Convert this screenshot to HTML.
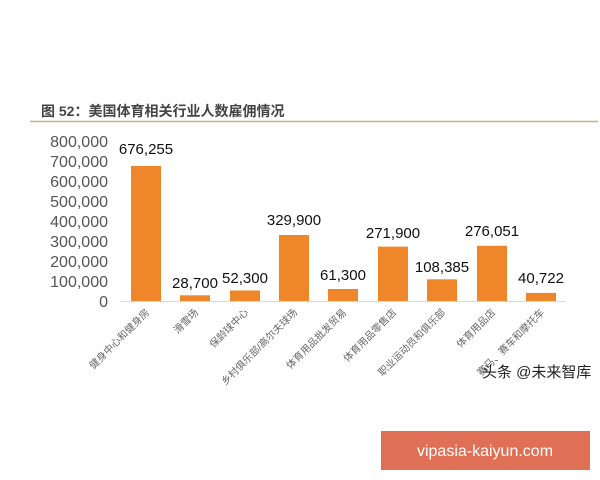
<!DOCTYPE html><html><head><meta charset="utf-8"><style>
body{margin:0;width:600px;height:480px;background:#fff;overflow:hidden;position:relative;font-family:"Liberation Sans","Noto Sans CJK SC",sans-serif}
</style></head><body>
<svg width="600" height="480" xmlns="http://www.w3.org/2000/svg" style="position:absolute;left:0;top:0">
<text x="41" y="116" font-size="14" font-weight="bold" fill="#444" font-family="Liberation Sans, Noto Sans CJK SC, sans-serif">图 52：美国体育相关行业人数雇佣情况</text>
<line x1="30" y1="121.5" x2="598" y2="121.5" stroke="#c8b283" stroke-width="1.5"/>
<g font-size="16" fill="#555" text-anchor="end" font-family="Liberation Sans, sans-serif">
<text x="108" y="147">800,000</text><text x="108" y="167">700,000</text><text x="108" y="187">600,000</text><text x="108" y="207">500,000</text><text x="108" y="227">400,000</text><text x="108" y="247">300,000</text><text x="108" y="267">200,000</text><text x="108" y="287">100,000</text><text x="108" y="307">0</text>
</g>
<line x1="121" y1="301.5" x2="566" y2="301.5" stroke="#d9d9d9" stroke-width="1"/>
<g fill="#f0862a">
<rect x="131" y="166" width="30" height="135"/>
<rect x="180" y="295.3" width="30" height="5.7"/>
<rect x="230" y="290.5" width="30" height="10.5"/>
<rect x="279" y="235" width="30" height="66"/>
<rect x="328" y="289" width="30" height="12"/>
<rect x="378" y="246.6" width="30" height="54.4"/>
<rect x="427" y="279.3" width="30" height="21.7"/>
<rect x="477" y="245.8" width="30" height="55.2"/>
<rect x="526" y="292.9" width="30" height="8.1"/>
</g>
<g font-size="15" fill="#111" text-anchor="middle" font-family="Liberation Sans, sans-serif">
<text x="146" y="154">676,255</text><text x="195" y="288">28,700</text><text x="245" y="283">52,300</text><text x="294" y="225">329,900</text><text x="343" y="280">61,300</text><text x="393" y="238">271,900</text><text x="442" y="272">108,385</text><text x="492" y="236">276,051</text><text x="541" y="283">40,722</text>
</g>
<g font-size="10" fill="#666" text-anchor="end" font-family="Liberation Sans, Noto Sans CJK SC, sans-serif">
<text transform="translate(150,313) rotate(-45)">健身中心和健身房</text>
<text transform="translate(199,313) rotate(-45)">滑雪场</text>
<text transform="translate(249,313) rotate(-45)">保龄球中心</text>
<text transform="translate(298,313) rotate(-45)">乡村俱乐部/高尔夫球场</text>
<text transform="translate(347,313) rotate(-45)">体育用品批发贸易</text>
<text transform="translate(397,313) rotate(-45)">体育用品零售店</text>
<text transform="translate(446,313) rotate(-45)">职业运动员和俱乐部</text>
<text transform="translate(496,313) rotate(-45)">体育用品店</text>
<text transform="translate(545,313) rotate(-45)">赛马、赛车和摩托车</text>
</g>
<text x="482" y="377" font-size="15" fill="#222" font-family="Liberation Sans, Noto Sans CJK SC, sans-serif">头条 @未来智库</text>
<rect x="381" y="431" width="209" height="39" fill="#e07055"/>
<text x="485" y="456" font-size="16" fill="#fff" text-anchor="middle" font-family="Liberation Sans, sans-serif">vipasia-kaiyun.com</text>
</svg>
</body></html>
